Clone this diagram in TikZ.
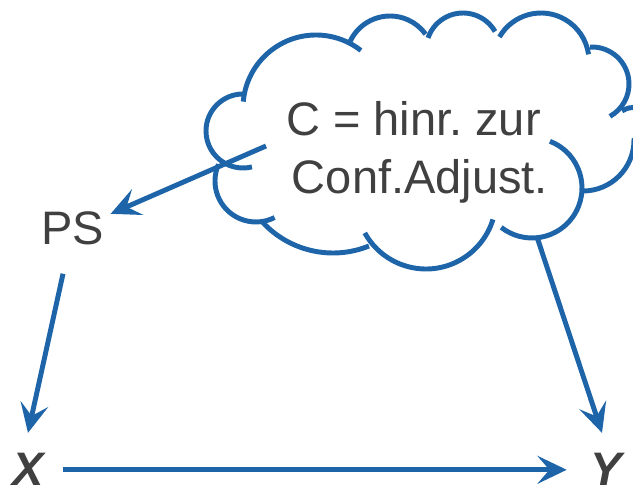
\documentclass[tikz,border=0pt]{standalone}
\usepackage{fontspec}
\setmainfont{Liberation Sans}
\usetikzlibrary{arrows.meta}
\definecolor{cloudblue}{RGB}{30,100,168}
\definecolor{txtgray}{RGB}{64,64,64}
\frenchspacing
\begin{document}
\begin{tikzpicture}[x=0.75pt, y=-0.75pt,
    every node/.style={inner sep=0pt, text=txtgray, font=\fontsize{35.25pt}{43.5pt}\selectfont},
    varlbl/.style={font=\fontsize{35.25pt}{43.5pt}\selectfont\bfseries\itshape},
    cloudline/.style={draw=cloudblue, line width=3.7pt},
    arr/.style={draw=cloudblue, line width=3.7pt, -{Stealth[length=22pt, width=21pt, inset=9pt]}}]
    \clip (0,0) rectangle (633,488);

    % cloud, one arc per puff
    \foreach \cx/\cy/\r/\a/\b in {316/108/73/185/308, 390/60/44/204/324, 463/50/37/199/330,
        541/61/48/210/352, 592/84/37/267/421, 532/188/50/291/488, 426/199/70/151/17,
        333/157/96/137/68, 256/181/41/204/63, 243/131/37/270/76} {
        \draw[cloudline] (\cx,\cy) ++(\a:\r) arc[start angle=\a, end angle=\b, radius=\r];
    }
    \draw[cloudline] (622,111) .. controls (642,98) and (660,125) .. (634,140)
        arc[start angle=0, end angle=90, radius=51];

    \node[align=center] (cloudtxt) at (420,152) {C = hinr. zur\hspace*{0.278em}\\Conf.Adjust.};
    \node[anchor=base] (ps) at (72.5,245) {PS};
    \node[anchor=base, varlbl] (xnode) at (28,486) {X};
    \node[anchor=base, varlbl] (ynode) at (606,486) {Y};

    \coordinate (cleft) at (266,146);
    \coordinate (cbot) at (537,237);

    \draw[arr] (cleft) -- ([xshift=4.9pt, yshift=11.25pt]ps.east);
    \draw[arr] ([xshift=-7.1pt, yshift=-21pt]ps.south) -- ([yshift=15.4pt]xnode.north);
    \draw[arr] ([xshift=14.5pt]xnode.east) -- ([xshift=-17.5pt]ynode.west);
    \draw[arr] (cbot) -- ([xshift=-3pt, yshift=15.4pt]ynode.north);
\end{tikzpicture}
\end{document}
